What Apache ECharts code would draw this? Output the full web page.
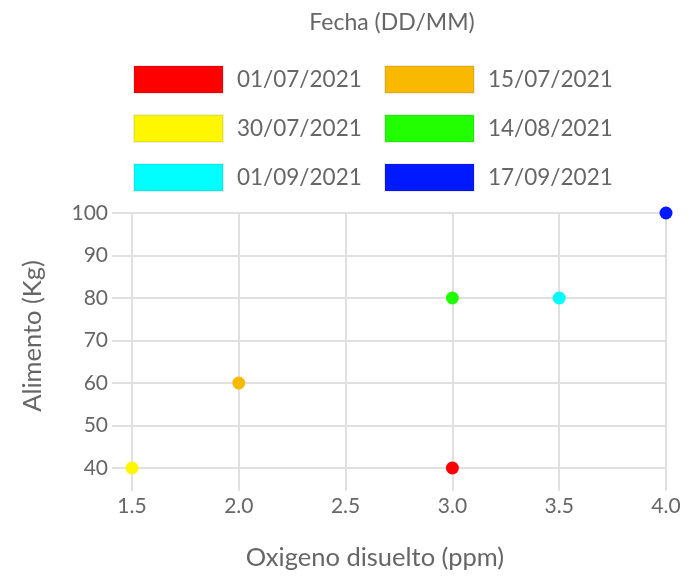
<!DOCTYPE html>
<html>
<head>
<meta charset="utf-8">
<script src="https://cdn.jsdelivr.net/npm/echarts@6/dist/echarts.min.js"></script>
<style>
html,body{margin:0;padding:0;background:#fff;}
#chart{width:689px;height:580px;}
</style>
</head>
<body>
<div id="chart"></div>
<script>
const dates = ['01/07/2021','15/07/2021','30/07/2021','14/08/2021','01/09/2021','17/09/2021'];
const oxygen = [3.0, 2.0, 1.5, 3.0, 3.5, 4.0];
const food = [40, 60, 40, 80, 80, 100];
const colors = ['#ff0000','#f8b900','#fff700','#22ff00','#00ffff','#0019ff'];
const legendTitle = 'Fecha (DD/MM)';
const xName = 'Oxigeno disuelto (ppm)';
const yName = 'Alimento (Kg)';

const FONT = 'Lato';
const TXT = '#666';
const GRID = '#e0e0e0';

const chart = echarts.init(document.getElementById('chart'));
const series = dates.map((d, i) => ({
  name: d,
  type: 'scatter',
  data: [[oxygen[i], food[i]]],
  symbolSize: 13,
  itemStyle: { color: colors[i], opacity: 1 }
}));

const legendBase = {
  orient: 'vertical',
  icon: 'rect',
  itemWidth: 89, itemHeight: 27,
  itemGap: 20,
  top: 60,
  itemStyle: { borderColor: 'rgba(0,0,0,0.08)', borderWidth: 2, opacity: 1 },
  textStyle: { fontFamily: FONT, fontSize: 22.5, color: TXT, padding: [0,0,0,9] }
};

chart.setOption({
  animation: false,
  color: colors,
  title: {
    text: legendTitle,
    left: 387, top: 6, textAlign: 'center',
    textStyle: { fontFamily: FONT, fontSize: 23, fontWeight: 'normal', color: TXT }
  },
  legend: [
    Object.assign({}, legendBase, { left: 128, data: [dates[0], dates[2], dates[4]] }),
    Object.assign({}, legendBase, { left: 379, data: [dates[1], dates[3], dates[5]] })
  ],
  grid: { left: 132, right: 23, top: 213, bottom: 112, containLabel: false },
  xAxis: {
    type: 'value', min: 1.5, max: 4.0, interval: 0.5,
    name: xName, nameLocation: 'middle', nameGap: 77,
    nameTextStyle: { fontFamily: FONT, fontSize: 25.5, color: TXT, padding: [0,48,0,0] },
    axisLine: { show: true, lineStyle: { color: GRID, width: 2 } },
    axisTick: { show: true, length: 23, lineStyle: { color: GRID, width: 2 } },
    splitLine: { show: true, lineStyle: { color: GRID, width: 2 } },
    axisLabel: { fontFamily: FONT, fontSize: 21, color: TXT, margin: 28, formatter: v => v.toFixed(1) }
  },
  yAxis: {
    type: 'value', min: 40, max: 100, interval: 10,
    name: yName, nameLocation: 'middle', nameGap: 86,
    nameTextStyle: { fontFamily: FONT, fontSize: 25.5, color: TXT, padding: [0,0,0,9] },
    axisLine: { show: true, lineStyle: { color: GRID, width: 2 } },
    axisTick: { show: true, length: 20, lineStyle: { color: GRID, width: 2 } },
    splitLine: { show: true, lineStyle: { color: GRID, width: 2 } },
    axisLabel: { fontFamily: FONT, fontSize: 21, color: TXT, margin: 24 }
  },
  series: series
});
</script>
</body>
</html>
